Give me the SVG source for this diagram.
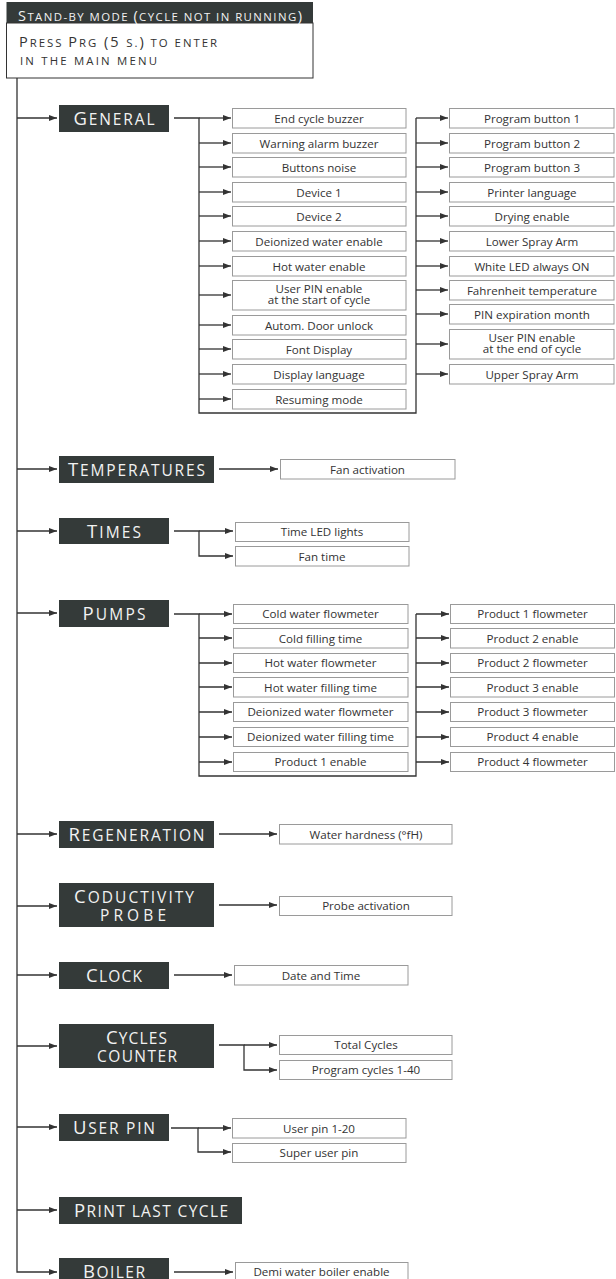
<svg xmlns="http://www.w3.org/2000/svg" width="616" height="1279" viewBox="0 0 616 1279">
<defs>
<marker id="ah" markerWidth="8" markerHeight="6" refX="8" refY="3" orient="auto" markerUnits="userSpaceOnUse"><path d="M0,0 L8,3 L0,6 z" fill="#333"/></marker>
<style>
.dk{fill:#343a39}
.lbl{font-family:"Open Sans","Liberation Sans",sans-serif;font-size:18.5px;fill:#f2f2f2;text-anchor:middle}
.lbl .s{font-size:15.5px;text-transform:uppercase}
.hd{font-family:"Open Sans","Liberation Sans",sans-serif;font-size:14.5px}
.hd .s{font-size:11.4px;text-transform:uppercase}
.bx{fill:#fff;stroke:#9a9a9a;stroke-width:1}
.bt{font-family:"Open Sans","Liberation Sans",sans-serif;font-size:11.6px;fill:#333;text-anchor:middle}
.cn line,.cn polyline{stroke:#333;stroke-width:1.3;fill:none}
.ar{marker-end:url(#ah)}
</style>
</defs>
<rect width="616" height="1279" fill="#fff"/>

<g id="header">
<rect x="6.5" y="2" width="306.5" height="21" fill="#343a39"/>
<rect x="6.5" y="23" width="306.5" height="55" fill="#fff" stroke="#333" stroke-width="1"/>
<text class="hd" x="18" y="20.5" fill="#f2f2f2" textLength="284" lengthAdjust="spacing">S<tspan class="s">tand-by mode </tspan>(<tspan class="s">cycle not in running</tspan>)</text>
<text class="hd" x="19" y="47" fill="#333" textLength="198" lengthAdjust="spacing">P<tspan class="s">ress </tspan>P<tspan class="s">rg</tspan> (5 <tspan class="s">s.</tspan>)<tspan class="s"> to enter</tspan></text>
<text class="hd" x="20" y="65" fill="#333" textLength="137" lengthAdjust="spacing"><tspan class="s">in the main menu</tspan></text>
</g>

<g id="connectors" class="cn">
<polyline points="17,78 17,1272 57,1272" class="ar"/>
<line x1="17" y1="118" x2="57" y2="118" class="ar"/>
<line x1="17" y1="469" x2="57" y2="469" class="ar"/>
<line x1="17" y1="531" x2="57" y2="531" class="ar"/>
<line x1="17" y1="613" x2="57" y2="613" class="ar"/>
<line x1="17" y1="834" x2="57" y2="834" class="ar"/>
<line x1="17" y1="906" x2="57" y2="906" class="ar"/>
<line x1="17" y1="975" x2="57" y2="975" class="ar"/>
<line x1="17" y1="1046" x2="57" y2="1046" class="ar"/>
<line x1="17" y1="1127" x2="57" y2="1127" class="ar"/>
<line x1="17" y1="1210" x2="57" y2="1210" class="ar"/>
<!-- General -->
<polyline points="174,118 199,118 199,413 416,413 416,118"/>
<line x1="199" y1="118" x2="231" y2="118" class="ar"/>
<line x1="199" y1="143" x2="231" y2="143" class="ar"/>
<line x1="199" y1="167" x2="231" y2="167" class="ar"/>
<line x1="199" y1="192" x2="231" y2="192" class="ar"/>
<line x1="199" y1="216" x2="231" y2="216" class="ar"/>
<line x1="199" y1="241" x2="231" y2="241" class="ar"/>
<line x1="199" y1="266" x2="231" y2="266" class="ar"/>
<line x1="199" y1="295" x2="231" y2="295" class="ar"/>
<line x1="199" y1="325" x2="231" y2="325" class="ar"/>
<line x1="199" y1="349" x2="231" y2="349" class="ar"/>
<line x1="199" y1="374" x2="231" y2="374" class="ar"/>
<line x1="199" y1="399" x2="231" y2="399" class="ar"/>
<line x1="416" y1="118" x2="448" y2="118" class="ar"/>
<line x1="416" y1="143" x2="448" y2="143" class="ar"/>
<line x1="416" y1="167" x2="448" y2="167" class="ar"/>
<line x1="416" y1="192" x2="448" y2="192" class="ar"/>
<line x1="416" y1="216" x2="448" y2="216" class="ar"/>
<line x1="416" y1="241" x2="448" y2="241" class="ar"/>
<line x1="416" y1="266" x2="448" y2="266" class="ar"/>
<line x1="416" y1="290" x2="448" y2="290" class="ar"/>
<line x1="416" y1="314" x2="448" y2="314" class="ar"/>
<line x1="416" y1="344" x2="448" y2="344" class="ar"/>
<line x1="416" y1="374" x2="448" y2="374" class="ar"/>
<!-- Temperatures -->
<line x1="219" y1="469" x2="278" y2="469" class="ar"/>
<!-- Times -->
<polyline points="174,531 199,531 199,556 233,556" class="ar"/>
<line x1="199" y1="531" x2="233" y2="531" class="ar"/>
<!-- Pumps -->
<polyline points="174,614 199,614 199,776 416,776 416,614"/>
<line x1="199" y1="614" x2="232" y2="614" class="ar"/>
<line x1="199" y1="638" x2="232" y2="638" class="ar"/>
<line x1="199" y1="663" x2="232" y2="663" class="ar"/>
<line x1="199" y1="687" x2="232" y2="687" class="ar"/>
<line x1="199" y1="712" x2="232" y2="712" class="ar"/>
<line x1="199" y1="737" x2="232" y2="737" class="ar"/>
<line x1="199" y1="762" x2="232" y2="762" class="ar"/>
<line x1="416" y1="614" x2="449" y2="614" class="ar"/>
<line x1="416" y1="638" x2="449" y2="638" class="ar"/>
<line x1="416" y1="663" x2="449" y2="663" class="ar"/>
<line x1="416" y1="687" x2="449" y2="687" class="ar"/>
<line x1="416" y1="712" x2="449" y2="712" class="ar"/>
<line x1="416" y1="737" x2="449" y2="737" class="ar"/>
<line x1="416" y1="762" x2="449" y2="762" class="ar"/>
<!-- Regeneration -->
<line x1="219" y1="834" x2="277" y2="834" class="ar"/>
<!-- Probe -->
<line x1="219" y1="905" x2="277" y2="905" class="ar"/>
<!-- Clock -->
<line x1="174" y1="975" x2="232" y2="975" class="ar"/>
<!-- Cycles counter -->
<polyline points="219,1045 244,1045 244,1070 277,1070" class="ar"/>
<line x1="244" y1="1045" x2="277" y2="1045" class="ar"/>
<!-- User pin -->
<polyline points="171,1128 198,1128 198,1152 231,1152" class="ar"/>
<line x1="198" y1="1128" x2="231" y2="1128" class="ar"/>
<!-- Boiler -->
<line x1="174" y1="1272" x2="233" y2="1272" class="ar"/>
</g>

<g id="general"><rect class="dk" x="59" y="105" width="110" height="27"/><text class="lbl" x="114" y="125" textLength="81" lengthAdjust="spacing">G<tspan class="s">eneral</tspan></text></g>
<g id="general-items">
<rect class="bx" x="232.5" y="108.5" width="173.5" height="19.5"/><text class="bt" x="319" y="122.5">End cycle buzzer</text>
<rect class="bx" x="232.5" y="133.5" width="173.5" height="19.5"/><text class="bt" x="319" y="147.5">Warning alarm buzzer</text>
<rect class="bx" x="232.5" y="157.5" width="173.5" height="19.5"/><text class="bt" x="319" y="171.5">Buttons noise</text>
<rect class="bx" x="232.5" y="182.5" width="173.5" height="19.5"/><text class="bt" x="319" y="196.5">Device 1</text>
<rect class="bx" x="232.5" y="206.5" width="173.5" height="19.5"/><text class="bt" x="319" y="220.5">Device 2</text>
<rect class="bx" x="232.5" y="231.5" width="173.5" height="19.5"/><text class="bt" x="319" y="245.5">Deionized water enable</text>
<rect class="bx" x="232.5" y="256.5" width="173.5" height="19.5"/><text class="bt" x="319" y="270.5">Hot water enable</text>
<rect class="bx" x="232.5" y="280.5" width="173.5" height="29.5"/><text class="bt" x="319" y="292.5">User PIN enable</text><text class="bt" x="319" y="304">at the start of cycle</text>
<rect class="bx" x="232.5" y="315.5" width="173.5" height="19.5"/><text class="bt" x="319" y="329.5">Autom. Door unlock</text>
<rect class="bx" x="232.5" y="339.5" width="173.5" height="19.5"/><text class="bt" x="319" y="353.5">Font Display</text>
<rect class="bx" x="232.5" y="364.5" width="173.5" height="19.5"/><text class="bt" x="319" y="378.5">Display language</text>
<rect class="bx" x="232.5" y="389.5" width="173.5" height="19.5"/><text class="bt" x="319" y="403.5">Resuming mode</text>
<rect class="bx" x="449.5" y="108.5" width="164.5" height="19.5"/><text class="bt" x="532" y="122.5">Program button 1</text>
<rect class="bx" x="449.5" y="133.5" width="164.5" height="19.5"/><text class="bt" x="532" y="147.5">Program button 2</text>
<rect class="bx" x="449.5" y="157.5" width="164.5" height="19.5"/><text class="bt" x="532" y="171.5">Program button 3</text>
<rect class="bx" x="449.5" y="182.5" width="164.5" height="19.5"/><text class="bt" x="532" y="196.5">Printer language</text>
<rect class="bx" x="449.5" y="206.5" width="164.5" height="19.5"/><text class="bt" x="532" y="220.5">Drying enable</text>
<rect class="bx" x="449.5" y="231.5" width="164.5" height="19.5"/><text class="bt" x="532" y="245.5">Lower Spray Arm</text>
<rect class="bx" x="449.5" y="256.5" width="164.5" height="19.5"/><text class="bt" x="532" y="270.5">White LED always ON</text>
<rect class="bx" x="449.5" y="280.5" width="164.5" height="19.5"/><text class="bt" x="532" y="294.5">Fahrenheit temperature</text>
<rect class="bx" x="449.5" y="304.5" width="164.5" height="19.5"/><text class="bt" x="532" y="318.5">PIN expiration month</text>
<rect class="bx" x="449.5" y="329.5" width="164.5" height="29.5"/><text class="bt" x="532" y="341.5">User PIN enable</text><text class="bt" x="532" y="353">at the end of cycle</text>
<rect class="bx" x="449.5" y="364.5" width="164.5" height="19.5"/><text class="bt" x="532" y="378.5">Upper Spray Arm</text>
</g>

<g id="temperatures"><rect class="dk" x="59" y="456" width="155" height="27"/><text class="lbl" x="136.5" y="476" textLength="137" lengthAdjust="spacing">T<tspan class="s">emperatures</tspan></text></g>
<g id="temperatures-items"><rect class="bx" x="280.5" y="459.5" width="174.5" height="19.5"/><text class="bt" x="367.5" y="473.5">Fan activation</text></g>

<g id="times"><rect class="dk" x="59" y="518" width="110" height="26"/><text class="lbl" x="114" y="538" textLength="54" lengthAdjust="spacing">T<tspan class="s">imes</tspan></text></g>
<g id="times-items">
<rect class="bx" x="235.5" y="522.5" width="173.5" height="19"/><text class="bt" x="322" y="536">Time LED lights</text>
<rect class="bx" x="235.5" y="546.5" width="173.5" height="19.5"/><text class="bt" x="322" y="560.5">Fan time</text>
</g>

<g id="pumps"><rect class="dk" x="59" y="600" width="110" height="27"/><text class="lbl" x="114" y="620" textLength="63" lengthAdjust="spacing">P<tspan class="s">umps</tspan></text></g>
<g id="pumps-items">
<rect class="bx" x="233.5" y="604.5" width="174.5" height="19"/><text class="bt" x="320.5" y="618">Cold water flowmeter</text>
<rect class="bx" x="233.5" y="628.5" width="174.5" height="19.5"/><text class="bt" x="320.5" y="642.5">Cold filling time</text>
<rect class="bx" x="233.5" y="653.5" width="174.5" height="19"/><text class="bt" x="320.5" y="667">Hot water flowmeter</text>
<rect class="bx" x="233.5" y="677.5" width="174.5" height="19.5"/><text class="bt" x="320.5" y="691.5">Hot water filling time</text>
<rect class="bx" x="233.5" y="702.5" width="174.5" height="19"/><text class="bt" x="320.5" y="716">Deionized water flowmeter</text>
<rect class="bx" x="233.5" y="727.5" width="174.5" height="19"/><text class="bt" x="320.5" y="741">Deionized water filling time</text>
<rect class="bx" x="233.5" y="752.5" width="174.5" height="19"/><text class="bt" x="320.5" y="766">Product 1 enable</text>
<rect class="bx" x="450.5" y="604.5" width="164" height="19"/><text class="bt" x="532.5" y="618">Product 1 flowmeter</text>
<rect class="bx" x="450.5" y="628.5" width="164" height="19.5"/><text class="bt" x="532.5" y="642.5">Product 2 enable</text>
<rect class="bx" x="450.5" y="653.5" width="164" height="19"/><text class="bt" x="532.5" y="667">Product 2 flowmeter</text>
<rect class="bx" x="450.5" y="677.5" width="164" height="19.5"/><text class="bt" x="532.5" y="691.5">Product 3 enable</text>
<rect class="bx" x="450.5" y="702.5" width="164" height="19"/><text class="bt" x="532.5" y="716">Product 3 flowmeter</text>
<rect class="bx" x="450.5" y="727.5" width="164" height="19"/><text class="bt" x="532.5" y="741">Product 4 enable</text>
<rect class="bx" x="450.5" y="752.5" width="164" height="19"/><text class="bt" x="532.5" y="766">Product 4 flowmeter</text>
</g>

<g id="regeneration"><rect class="dk" x="59" y="821" width="155" height="27"/><text class="lbl" x="136.5" y="841" textLength="136" lengthAdjust="spacing">R<tspan class="s">egeneration</tspan></text></g>
<g id="regeneration-items"><rect class="bx" x="279.5" y="824.5" width="172.5" height="19.5"/><text class="bt" x="366" y="838.5">Water hardness (°fH)</text></g>

<g id="probe"><rect class="dk" x="59" y="883" width="155" height="44"/><text class="lbl" x="134" y="902.5" textLength="120" lengthAdjust="spacing">C<tspan class="s">oductivity</tspan></text><text class="lbl" x="133" y="921" textLength="66" lengthAdjust="spacing"><tspan class="s">probe</tspan></text></g>
<g id="probe-items"><rect class="bx" x="279.5" y="896.5" width="172.5" height="19"/><text class="bt" x="366" y="910">Probe activation</text></g>

<g id="clock"><rect class="dk" x="59" y="962" width="110" height="27"/><text class="lbl" x="114" y="982" textLength="56" lengthAdjust="spacing">C<tspan class="s">lock</tspan></text></g>
<g id="clock-items"><rect class="bx" x="234.5" y="965.5" width="173.5" height="19.5"/><text class="bt" x="321" y="979.5">Date and Time</text></g>

<g id="cycles"><rect class="dk" x="59" y="1024" width="155" height="44"/><text class="lbl" x="136.5" y="1043.5" textLength="61" lengthAdjust="spacing">C<tspan class="s">ycles</tspan></text><text class="lbl" x="137" y="1061.5" textLength="80" lengthAdjust="spacing"><tspan class="s">counter</tspan></text></g>
<g id="cycles-items">
<rect class="bx" x="279.5" y="1035.5" width="172.5" height="19"/><text class="bt" x="366" y="1049">Total Cycles</text>
<rect class="bx" x="279.5" y="1060.5" width="172.5" height="19"/><text class="bt" x="366" y="1074">Program cycles 1-40</text>
</g>

<g id="userpin"><rect class="dk" x="59" y="1114" width="110" height="27"/><text class="lbl" x="114" y="1134" textLength="82" lengthAdjust="spacing">U<tspan class="s">ser pin</tspan></text></g>
<g id="userpin-items">
<rect class="bx" x="232.5" y="1118.5" width="173.5" height="19.5"/><text class="bt" x="319" y="1132.5">User pin 1-20</text>
<rect class="bx" x="232.5" y="1143.5" width="173.5" height="19"/><text class="bt" x="319" y="1157">Super user pin</text>
</g>

<g id="print"><rect class="dk" x="59" y="1197" width="183" height="27"/><text class="lbl" x="151" y="1217" textLength="154" lengthAdjust="spacing">P<tspan class="s">rint last cycle</tspan></text></g>

<g id="boiler"><rect class="dk" x="59" y="1258" width="110" height="27"/><text class="lbl" x="114" y="1278" textLength="62" lengthAdjust="spacing">B<tspan class="s">oiler</tspan></text></g>
<g id="boiler-items"><rect class="bx" x="235.5" y="1262.5" width="172.5" height="20"/><text class="bt" x="321.5" y="1276">Demi water boiler enable</text></g>
</svg>
